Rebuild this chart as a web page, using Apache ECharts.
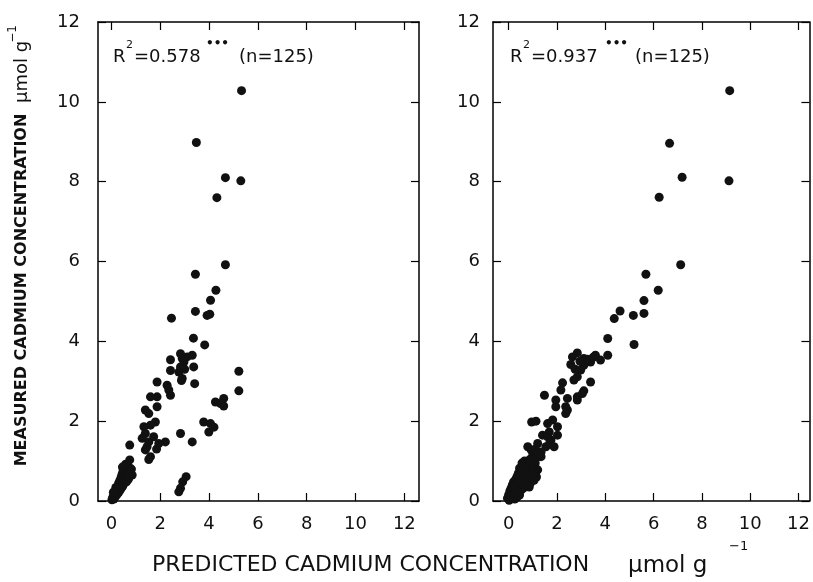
<!DOCTYPE html>
<html><head><meta charset="utf-8">
<script src="https://cdn.jsdelivr.net/npm/echarts@6/dist/echarts.min.js"></script>
<style>html,body{margin:0;padding:0;background:#fff}#c{width:813px;height:582px}</style>
</head><body><div id="c"></div>
<script>
// ---------- data (predicted, measured) in µmol g-1 ----------
const tickValues = [0, 2, 4, 6, 8, 10, 12];

const leftPoints = [
  [5.33,10.28],[3.48,8.98],[4.67,8.1],[5.3,8.02],[4.32,7.6],[4.67,5.92],[3.44,5.68],[4.28,5.28],
  [4.06,5.03],[3.44,4.75],[2.46,4.58],[3.92,4.65],[4.03,4.68],[3.36,4.08],[3.82,3.91],
  [2.83,3.69],[2.9,3.57],[3.1,3.61],[3.31,3.65],[2.97,3.48],[3.37,3.36],[2.83,3.36],[2.76,3.23],
  [2.9,3.07],[2.42,3.54],[2.42,3.27],[3.41,2.94],[3.0,3.3],[2.87,3.02],
  [5.22,3.25],[5.22,2.76],
  [1.87,2.98],[2.28,2.9],[2.42,2.65],[2.35,2.78],[1.87,2.61],[1.6,2.61],[4.26,2.48],[4.6,2.57],
  [4.6,2.38],[4.47,2.44],[1.87,2.36],[1.39,2.28],[1.53,2.19],
  [1.8,1.98],[1.6,1.9],[1.33,1.86],[1.39,1.69],[1.26,1.57],[1.53,1.48],[1.73,1.61],[2.21,1.48],
  [1.39,1.28],[1.6,1.11],[1.46,1.36],[1.94,1.44],[1.53,1.04],[1.85,1.3],[0.75,1.4],[0.75,1.03],
  [2.83,1.69],[3.31,1.48],[3.78,1.98],[4.06,1.94],[3.99,1.73],[4.2,1.85],
  [3.06,0.61],[2.92,0.48],[2.83,0.32],[2.76,0.23],
  [0.02,0.03],[0.05,0.08],[0.1,0.05],[0.08,0.12],[0.12,0.15],[0.15,0.1],[0.18,0.2],[0.2,0.14],
  [0.14,0.22],[0.22,0.25],[0.25,0.18],[0.2,0.3],[0.28,0.28],[0.3,0.22],[0.25,0.35],[0.32,0.33],
  [0.35,0.27],[0.28,0.4],[0.36,0.4],[0.4,0.32],[0.3,0.45],[0.38,0.48],[0.42,0.42],[0.45,0.36],
  [0.35,0.52],[0.42,0.55],[0.48,0.48],[0.5,0.42],[0.4,0.6],[0.46,0.62],[0.52,0.56],[0.55,0.5],
  [0.44,0.68],[0.5,0.7],[0.56,0.64],[0.6,0.58],[0.48,0.76],[0.55,0.78],[0.62,0.7],[0.65,0.62],
  [0.52,0.84],[0.6,0.86],[0.68,0.78],[0.7,0.68],[0.58,0.92],[0.66,0.9],[0.72,0.84],[0.75,0.75],
  [0.7,0.55],[0.62,0.48],[0.82,0.8],[0.85,0.65],[0.18,0.34],[0.08,0.22],[0.45,0.85]
];

const rightPoints = [
  [9.15,10.28],[6.66,8.96],[7.18,8.11],[9.12,8.02],[6.23,7.61],[7.12,5.92],[5.68,5.68],[6.19,5.28],
  [5.6,5.02],[4.61,4.76],[4.37,4.57],[5.16,4.65],[5.6,4.7],[4.1,4.07],[5.19,3.92],[4.1,3.65],
  [2.84,3.71],[2.64,3.61],[2.57,3.42],[3.11,3.57],[3.59,3.65],[3.8,3.53],[3.39,3.48],[3.11,3.4],
  [2.98,3.28],[2.84,3.11],[2.7,3.03],[3.39,2.98],[2.23,2.96],[2.16,2.78],[3.11,2.76],[2.84,2.61],
  [1.48,2.65],[2.43,2.57],[1.95,2.36],[2.36,2.36],[3.25,3.55],[2.95,3.5],[3.5,3.6],[2.75,3.3],
  [1.95,2.53],[2.43,2.28],[2.36,2.19],[3.05,2.69],[2.84,2.53],[0.95,1.98],[1.13,2.0],[1.82,2.03],
  [2.02,1.86],[1.68,1.73],[1.4,1.65],[1.75,1.53],[1.88,1.36],[2.02,1.65],[1.61,1.94],[1.61,1.61],
  [1.54,1.36],[1.34,1.23],[1.2,1.11],[0.79,1.36],[1.2,1.44],[1.0,1.19],[1.34,1.11],[0.86,1.03],
  [0.93,1.28],[1.1,1.3],[1.7,1.45],
  [0.55,0.95],[0.75,0.92],[0.95,0.9],[1.1,0.95],[0.65,1.0],
  [0.45,0.82],[0.6,0.8],[0.8,0.85],[1.0,0.8],[1.2,0.78],[0.7,0.75],[0.9,0.72],[1.1,0.7],
  [0.4,0.7],[0.55,0.68],[0.75,0.65],[0.95,0.62],[1.15,0.6],[0.35,0.62],[0.6,0.58],[0.85,0.55],[1.05,0.52],
  [0.3,0.55],[0.45,0.5],[0.65,0.48],[0.9,0.45],[0.2,0.48],[0.5,0.42],[0.75,0.4],
  [0.15,0.4],[0.3,0.38],[0.4,0.33],[0.6,0.32],[0.85,0.35],[0.1,0.32],[0.25,0.28],[0.5,0.26],
  [0.05,0.25],[0.15,0.2],[0.3,0.18],[0.45,0.15],[0.0,0.16],[0.2,0.12],[0.35,0.1],
  [-0.05,0.07],[0.05,0.05],[0.1,0.1],[0.25,0.05],[0.02,0.02],
  [0.7,0.55],[0.55,0.75],[0.8,0.6],[0.4,0.45],[0.65,0.85],[1.0,0.68],[0.35,0.25],[0.2,0.35],[0.9,1.05]
];

const leftStats = { r2: '=0.578', n: '(n=125)' };
const rightStats = { r2: '=0.937', n: '(n=125)' };

// ---------- chart ----------
const FONT = 'DejaVu Sans';
const INK = '#111';
const chart = echarts.init(document.getElementById('c'), null, { renderer: 'canvas' });

function xAx(grid, min, max, pos, labels) {
  return {
    gridIndex: grid, type: 'value', min: min, max: max, position: pos,
    axisLine: { show: true, onZero: false, lineStyle: { color: '#000', width: 1.5 } },
    axisTick: { show: true, inside: true, length: 8, customValues: tickValues, lineStyle: { color: '#000', width: 1.2 } },
    axisLabel: { show: labels, customValues: tickValues, margin: 14, fontSize: 18, color: INK, fontFamily: FONT },
    splitLine: { show: false }
  };
}
function yAx(grid, pos, labels, margin) {
  return {
    gridIndex: grid, type: 'value', min: 0, max: 12, interval: 2, position: pos,
    axisLine: { show: true, onZero: false, lineStyle: { color: '#000', width: 1.5 } },
    axisTick: { show: true, inside: true, length: 8, lineStyle: { color: '#000', width: 1.2 } },
    axisLabel: { show: labels, margin: margin, fontSize: 18, color: INK, fontFamily: FONT },
    splitLine: { show: false }
  };
}

function txt(x, y, text, size, weight) {
  return {
    type: 'text', x: x, y: y,
    style: { text: text, fontSize: size, fontWeight: weight || 'normal', fontFamily: FONT, fill: INK, verticalAlign: 'middle' }
  };
}

const graphics = [
  // left annotation
  txt(113, 57, 'R', 18), txt(126, 45, '2', 11), txt(134, 57, leftStats.r2, 18),
  txt(206, 44, '•••', 12, 'bold'), txt(239, 57, leftStats.n, 18),
  // right annotation
  txt(510, 57, 'R', 18), txt(523, 45, '2', 11), txt(531, 57, rightStats.r2, 18),
  txt(605, 44, '•••', 12, 'bold'), txt(635, 57, rightStats.n, 18),
  // x title
  txt(152, 565, 'PREDICTED CADMIUM CONCENTRATION', 22),
  txt(628, 566, 'µmol g', 23),
  txt(729, 547, '−1', 13),
  // y title (rotated)
  { type: 'text', x: 22, y: 290, rotation: Math.PI / 2,
    style: { text: 'MEASURED CADMIUM CONCENTRATION', fontSize: 16, fontWeight: 'bold', fontFamily: FONT, fill: INK, align: 'center', verticalAlign: 'middle' } },
  { type: 'text', x: 22, y: 72, rotation: Math.PI / 2,
    style: { text: 'µmol g', fontSize: 18, fontFamily: FONT, fill: INK, align: 'center', verticalAlign: 'middle' } },
  { type: 'text', x: 13, y: 34, rotation: Math.PI / 2,
    style: { text: '−1', fontSize: 12, fontFamily: FONT, fill: INK, align: 'center', verticalAlign: 'middle' } }
];

chart.setOption({
  animation: false,
  backgroundColor: '#fff',
  grid: [
    { left: 98, right: 394, top: 22, bottom: 81 },
    { left: 493, right: 3, top: 22, bottom: 81 }
  ],
  xAxis: [
    xAx(0, -0.55, 12.6, 'bottom', true),
    xAx(0, -0.55, 12.6, 'top', false),
    xAx(1, -0.65, 12.45, 'bottom', true),
    xAx(1, -0.65, 12.45, 'top', false)
  ],
  yAxis: [
    yAx(0, 'left', true, 18),
    yAx(0, 'right', false, 8),
    yAx(1, 'left', true, 13),
    yAx(1, 'right', false, 8)
  ],
  series: [
    { type: 'scatter', xAxisIndex: 0, yAxisIndex: 0, data: leftPoints, symbolSize: 9,
      itemStyle: { color: '#111', opacity: 1 } },
    { type: 'scatter', xAxisIndex: 2, yAxisIndex: 2, data: rightPoints, symbolSize: 9,
      itemStyle: { color: '#111', opacity: 1 } }
  ],
  graphic: graphics
});
</script>
</body></html>
